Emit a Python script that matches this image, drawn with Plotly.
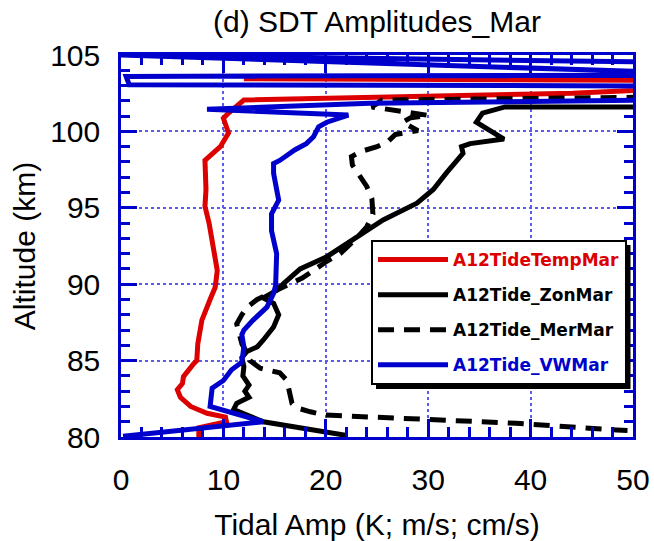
import plotly.graph_objects as go

# ---- data ----
temp_x = [7.6, 7.6, 10.3, 10.2, 8.4, 6.8, 5.8, 5.5, 6.0, 6.1, 7.1, 7.4, 7.5, 7.9, 8.7, 9.2, 9.4, 9.0, 8.6, 8.2,
          8.3, 8.2, 9.0, 9.7, 10.5, 10.0, 10.5, 12.0, 44.1, 70.0, 12.0, 70.0]
temp_alt = [79.9, 80.6, 81.0, 81.3, 81.55, 82.0, 82.6, 83.1, 83.5, 83.95, 84.8, 85.0, 86.1, 87.65, 89.0, 89.8,
            90.9, 92.7, 94.0, 95.1, 96.2, 98.1, 98.6, 99.0, 99.9, 100.86, 101.2, 102.05, 102.5, 103.3, 103.45, 103.7]

zon_x = [22.05, 17.8, 13.9, 11.0, 11.3, 12.5, 12.1, 12.5, 11.9, 12.0, 11.8, 12.3, 13.3, 13.9, 14.9, 15.4, 14.9,
         13.9, 15.2, 15.9, 17.5, 20.1, 22.7, 25.6, 28.9, 30.5, 31.8, 32.8, 33.4, 33.25, 34.1, 37.4, 34.7, 35.3,
         37.0, 37.5, 60.0]
zon_alt = [80.1, 80.6, 81.0, 81.8, 82.2, 82.6, 83.0, 83.4, 84.0, 84.6, 85.2, 85.6, 85.9, 86.35, 87.2, 88.0, 88.75,
           89.1, 89.6, 90.06, 91.0, 91.8, 92.9, 94.2, 95.3, 96.2, 97.3, 98.1, 98.57, 99.0, 99.2, 99.5, 100.6, 101.2,
           101.5, 101.6, 101.6]

mer_x = [52.0, 48.4, 38.6, 30.5, 25.3, 22.4, 19.8, 18.5, 17.2, 16.7, 16.5, 16.2, 15.5, 13.6, 12.6, 12.3, 11.8,
         11.5, 11.3, 11.8, 12.3, 13.3, 15.2, 16.5, 17.7, 18.8, 20.1, 21.4, 23.0, 24.0, 24.6, 24.5, 24.0, 23.2,
         22.6, 22.5, 23.5, 25.0, 26.0, 26.8, 27.9, 29.0, 27.5, 28.3, 30.0, 28.5, 26.5, 24.5, 25.5, 50.0, 60.0]
mer_alt = [80.35, 80.46, 80.9, 81.1, 81.3, 81.35, 81.44, 81.65, 81.9, 82.2, 82.9, 83.7, 84.2, 84.5, 85.0, 85.5,
           86.1, 86.8, 87.4, 88.0, 88.5, 89.0, 89.6, 90.06, 90.4, 90.9, 91.5, 92.0, 93.0, 93.75, 94.6, 95.6, 96.4,
           97.2, 97.8, 98.35, 98.7, 99.0, 99.3, 99.8, 99.95, 100.05, 100.6, 100.9, 101.05, 101.2, 101.4, 101.6,
           102.05, 102.2, 102.3]

vw_x = [0.2, 13.9, 8.7, 8.9, 8.9, 10.0, 10.8, 11.8, 12.0, 11.8, 12.0, 12.9, 14.25, 14.9, 15.1, 15.2, 14.7, 14.7,
        15.4, 15.2, 14.9, 14.9, 15.5, 17.0, 18.1, 18.8, 19.3, 20.1, 22.2, 8.4, 24.3, 70.0, 70.0, 0.8, 0.5, 70.0,
        70.0, 0.0, 90.0]
vw_alt = [80.05, 81.0, 82.0, 82.97, 83.2, 83.7, 84.4, 84.9, 85.9, 86.7, 87.0, 87.65, 88.5, 89.4, 89.9, 92.0, 93.5,
          94.6, 95.5, 96.2, 97.26, 97.9, 98.1, 98.8, 99.2, 99.65, 100.3, 100.6, 101.07, 101.45, 101.84, 102.2,
          102.95, 103.05, 103.6, 103.7, 103.5, 105.0, 104.2]

names = ["A12TideTempMar", "A12Tide_ZonMar", "A12Tide_MerMar", "A12Tide_VWMar"]
colors = ["#dd0000", "#000000", "#000000", "#0000cc"]
dashes = ["solid", "solid", "16px,10px", "solid"]
series = [(temp_x, temp_alt), (zon_x, zon_alt), (mer_x, mer_alt), (vw_x, vw_alt)]

fig = go.Figure()
for (xs, ys), nm, c, d in zip(series, names, colors, dashes):
    fig.add_trace(go.Scatter(
        x=xs, y=ys, mode="lines", legendgroup=nm,
        name=f'<span style="color:{c}">{nm}</span>',
        line=dict(color=c, width=5, dash=d),
    ))

axis_blue = "#0000cc"
grid_blue = "#5a5af0"
L, R, T, B = 120.5, 633.5, 55, 437
W, H = 654, 541
FONT = "Liberation Sans, Arial"

common = dict(
    showline=True, linecolor=axis_blue, linewidth=2.5, mirror="ticks",
    ticks="inside", tickcolor=axis_blue, tickwidth=2.5,
    showgrid=True, gridcolor=grid_blue, griddash="dot", gridwidth=1.5,
    zeroline=False, automargin=False,
    tickfont=dict(family=FONT, size=30, color="black"),
    title_font=dict(family=FONT, size=30, color="black"),
)

fig.update_xaxes(range=[0, 50], dtick=10, tick0=0, ticklen=18,
                 minor=dict(ticks="inside", dtick=2, ticklen=10, tickwidth=2.5, tickcolor=axis_blue, showgrid=False),
                 title_text="Tidal Amp (K; m/s; cm/s)", title_standoff=20, ticklabelstandoff=14, **common)
fig.update_yaxes(range=[80, 105], dtick=5, tick0=80, ticklen=16,
                 minor=dict(ticks="inside", dtick=1, ticklen=9, tickwidth=2.5, tickcolor=axis_blue, showgrid=False),
                 title_text="Altitude (km)", title_standoff=6, ticklabelstandoff=12, **common)

# legend shadow
lx0, ly0, lx1, ly1 = 371, 240, 626, 384
def px2paper_x(p):
    return (p - L) / (R - L)
def px2paper_y(p):
    return (B - p) / (B - T)
fig.add_shape(type="rect", xref="paper", yref="paper",
              x0=px2paper_x(lx0 + 5), x1=px2paper_x(lx1 + 5),
              y0=px2paper_y(ly1 + 5), y1=px2paper_y(ly0 + 5),
              fillcolor="black", line=dict(width=0), layer="above")

fig.update_layout(
    width=W, height=H,
    margin=dict(l=L, r=W - R, t=T, b=H - B, autoexpand=False),
    plot_bgcolor="white", paper_bgcolor="white",
    title=dict(text="(d) SDT Amplitudes_Mar", x=(L + R) / 2 / W, xanchor="center",
               y=1 - 21 / H, yanchor="middle",
               font=dict(family=FONT, size=30, color="black")),
    legend=dict(x=px2paper_x(lx0), y=px2paper_y(ly0), xanchor="left", yanchor="top",
                bgcolor="white", bordercolor="black", borderwidth=2,
                font=dict(family="DejaVu Sans", size=17, weight="bold"),
                itemwidth=70, tracegroupgap=10),
    showlegend=True,
)

fig.write_html("out.html")
